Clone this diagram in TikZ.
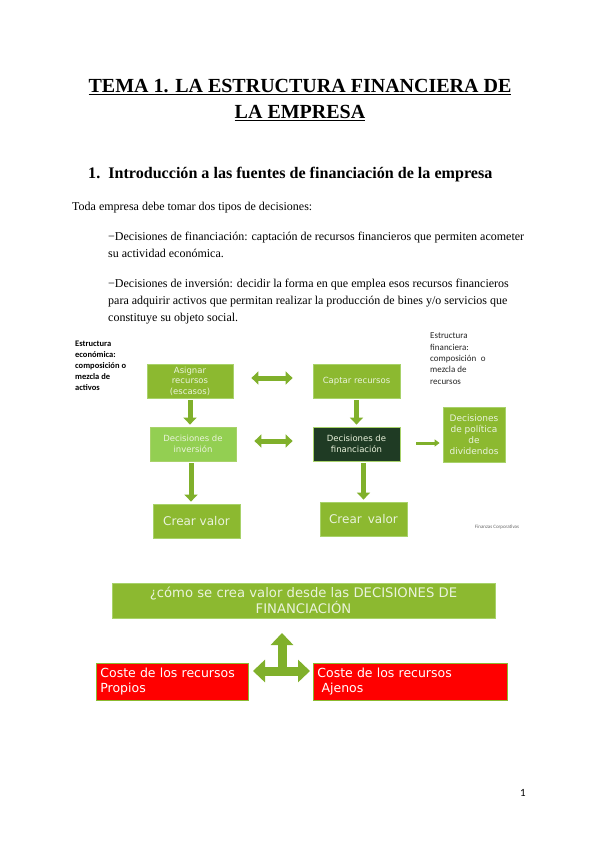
\documentclass[tikz,border=0pt]{standalone}
\usepackage{fontspec}
\setmainfont{Liberation Serif}
\newfontfamily\boxfont{DejaVu Sans}
\newfontfamily\notefont{Carlito}
\usepackage{xcolor}
\usetikzlibrary{arrows.meta}

\definecolor{verde}{HTML}{8CB930}
\definecolor{verdeclaro}{HTML}{93CF52}
\definecolor{verdeoscuro}{HTML}{1F3B24}
\definecolor{borde}{HTML}{A8D26A}
\definecolor{flecha}{HTML}{80B02B}
\definecolor{rojo}{HTML}{FF0000}
\definecolor{textobox}{HTML}{EAF3DC}

\tikzset{
  caja/.style={draw=borde,line width=0.8pt,fill=verde,text=textobox,align=center,
    font=\boxfont\fontsize{8.5}{10.5}\selectfont,inner sep=1pt},
  cajavalor/.style={caja,minimum width=87pt,minimum height=34pt,font=\boxfont\fontsize{12}{14}\selectfont},
  cajaroja/.style={draw=verde,line width=0.8pt,fill=rojo,text=white,align=left,
    font=\boxfont\fontsize{12.5}{15}\selectfont,inner sep=4pt,anchor=north west,text width=#1},
  nota/.style={align=left,anchor=north west,font=\notefont\fontsize{9}{11.3}\selectfont,inner sep=0pt},
  texto/.style={anchor=base west,inner sep=0pt,font=\fontsize{12}{14}\selectfont},
  bloque/.style={flecha,line width=5pt,line cap=butt,-{Triangle[width=13pt,length=7pt]}},
  dbloque/.style={flecha,line width=5pt,line cap=butt,{Triangle[width=13pt,length=7pt]}-{Triangle[width=13pt,length=7pt]}},
  fino/.style={flecha,line width=3pt,line cap=butt,-{Triangle[width=7pt,length=5pt]}},
  triple/.style={flecha,line width=9pt,line cap=butt},
}

\begin{document}
\begin{tikzpicture}[x=1pt,y=-1pt]
\useasboundingbox[fill=white] (0,0) rectangle (599,848);

% titulos
\node[anchor=base,inner sep=0pt,font=\bfseries\fontsize{20}{24}\selectfont] (tit1) at (300,93) {\underline{TEMA 1. LA ESTRUCTURA FINANCIERA DE}};
\node[anchor=base,inner sep=0pt,font=\bfseries\fontsize{20}{24}\selectfont] (tit2) at (300,119) {\underline{LA EMPRESA}};
\node[anchor=base west,inner sep=0pt,font=\bfseries\fontsize{16.1}{19}\selectfont] (secc) at (88,178) {1.\enspace Introducción a las fuentes de financiación de la empresa};

% texto
\node[texto] (t0) at (72,210) {Toda empresa debe tomar dos tipos de decisiones:};
\node[texto] (t1) at (108,240) {\textminus Decisiones de financiación: captación de recursos financieros que permiten acometer};
\node[texto] (t2) at (108,257) {su actividad económica.};
\node[texto] (t3) at (108,287) {\textminus Decisiones de inversión: decidir la forma en que emplea esos recursos financieros};
\node[texto] (t4) at (108,304) {para adquirir activos que permitan realizar la producción de bines y/o servicios que};
\node[texto] (t5) at (108,321) {constituye su objeto social.};

% notas
\node[nota,font=\notefont\bfseries\fontsize{8.5}{11}\selectfont] (notaeco) at (75,341) {Estructura\\económica:\\composición o\\mezcla de\\activos};
\node[nota,text=black!85] (notafin) at (430,333) {Estructura\\financiera:\\composición\enspace o\\mezcla de\\recursos};
\node[anchor=center,inner sep=0pt,text=black!60,font=\notefont\fontsize{5}{6}\selectfont] (fuente) at (497,527) {Finanzas Corporativas};

% cajas
\node[caja,minimum width=86pt,minimum height=34pt] (asig) at (190,381) {Asignar\\recursos\\(escasos)};
\node[caja,minimum width=87pt,minimum height=34pt] (captar) at (356.5,381) {Captar recursos};
\node[caja,fill=verdeclaro,minimum width=86pt,minimum height=34pt] (inv) at (193,444) {Decisiones de\\inversión};
\node[caja,fill=verdeoscuro,minimum width=87pt,minimum height=34pt] (fin) at (356.5,444) {Decisiones de\\financiación};
\node[caja,minimum width=62pt,minimum height=55pt,font=\boxfont\fontsize{9}{11}\selectfont] (divid) at (474,434.5) {Decisiones\\de política\\de\\dividendos};
\node[cajavalor] (valor1) at (196.5,521) {Crear valor};
\node[cajavalor] (valor2) at (363.5,519) {Crear\enspace valor};

% flechas
\path[dbloque,shorten <=18pt,shorten >=20pt]
  (asig.east |- 0,378) edge (captar.west |- 0,378)
  (inv.east |- 0,441) edge (fin.west |- 0,441);
\path[bloque,shorten <=2pt,shorten >=2pt]
  (asig.south) edge (asig.south |- inv.north)
  (captar.south) edge (captar.south |- fin.north)
  (inv.south -| 191,0) edge (valor1.north -| 191,0)
  (fin.south -| valor2) edge (valor2.north);
\draw[fino,shorten <=16pt,shorten >=3pt] (fin.east |- 0,443) -- (divid.west |- 0,443);

% parte inferior
\node[caja,minimum width=383pt,minimum height=35pt,font=\boxfont\fontsize{13.2}{15.5}\selectfont] (pregunta) at (303.5,600.5) {¿cómo se crea valor desde las DECISIONES DE\\FINANCIACIÓN};
\node[cajaroja=144pt,minimum height=37pt] (propios) at (96,663) {Coste de los recursos\\Propios};
\node[cajaroja=186pt,minimum height=37pt] (ajenos) at (313,663) {Coste de los recursos\\\ Ajenos};

\coordinate (cruce) at (282,671);
\coordinate (arriba) at (282,633);
\coordinate (izq) at (253,671);
\coordinate (der) at (310,671);
\draw[triple,{Triangle[width=22pt,length=12pt]}-{Triangle[width=22pt,length=12pt]}] (izq) -- (der);
\draw[triple,-{Triangle[width=22pt,length=12pt]}] ([yshift=4pt]cruce) -- (arriba);

% numero de pagina
\node[anchor=base,inner sep=0pt,font=\notefont\fontsize{11}{13}\selectfont] (pagina) at (523,796) {1};
\end{tikzpicture}
\end{document}
